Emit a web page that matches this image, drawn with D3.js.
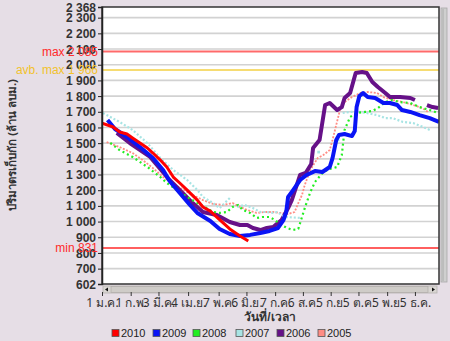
<!DOCTYPE html>
<html><head><meta charset="utf-8">
<script src="https://cdn.jsdelivr.net/npm/d3@7"></script>
<style>
html,body{margin:0;padding:0;background:#e6dee6;}
svg{display:block;font-family:"Liberation Sans",Arial,"Noto Sans",sans-serif;}
</style></head>
<body>
<svg id="c" width="450" height="341"></svg>
<script>
// ---- data (day of year, volume in million m3) ----
const yTicks = [602, 700, 800, 900, 1000, 1100, 1200, 1300, 1400, 1500, 1600, 1700, 1800, 1900, 2000, 2100, 2200, 2300, 2368];
const xTickDays = [0, 31, 61, 93, 126, 156, 187, 217, 247, 277, 308, 338];
const xTickLabels = ["1 ม.ค.", "1 ก.พ.", "3 มี.ค.", "4 เม.ย.", "7 พ.ค.", "6 มิ.ย.", "7 ก.ค.", "6 ส.ค.", "5 ก.ย.", "5 ต.ค.", "5 พ.ย.", "5 ธ.ค."];
const years = ["2010", "2009", "2008", "2007", "2006", "2005"];
const refNames = ["max 2 085", "avb. max 1 966", "min 831"];
const refValues = [2085, 1966, 831];

const days2010 = [0, 12, 19, 27, 33, 41, 49, 55, 63, 70, 77, 84, 92, 103, 109, 117, 124, 138, 149, 158];
const vol2010 = [1628, 1603, 1571, 1558, 1533, 1501, 1469, 1437, 1392, 1348, 1284, 1246, 1201, 1137, 1093, 1067, 1029, 953, 908, 876];

const days2009 = [6, 14, 27, 41, 55, 66, 73, 84, 95, 103, 117, 127, 138, 149, 160, 171, 181, 190, 196, 199, 201, 205, 214, 221, 230, 238, 246, 249, 253, 256, 262, 270, 273, 275, 278, 282, 287, 295, 304, 311, 319, 324, 333, 343, 354, 364];
const vol2009 = [1648, 1590, 1539, 1475, 1405, 1329, 1259, 1182, 1106, 1055, 1004, 953, 921, 908, 915, 927, 940, 959, 1010, 1061, 1157, 1188, 1265, 1297, 1322, 1316, 1348, 1405, 1520, 1552, 1558, 1545, 1577, 1730, 1800, 1820, 1794, 1788, 1756, 1756, 1743, 1711, 1699, 1679, 1660, 1635];

const days2008 = [9, 19, 33, 49, 63, 70, 81, 92, 103, 113, 120, 127, 135, 141, 147, 152, 160, 167, 173, 181, 187, 192, 200, 206, 212, 219, 225, 230, 239, 246, 254, 259, 262, 268, 275, 284, 292, 298, 306, 313, 322, 333, 343, 354, 363];
const vol2008 = [1501, 1456, 1412, 1348, 1284, 1246, 1201, 1157, 1118, 1086, 1061, 1055, 1061, 1093, 1106, 1074, 1055, 1023, 1029, 1029, 1010, 984, 959, 946, 953, 1086, 1188, 1252, 1316, 1335, 1348, 1424, 1584, 1667, 1692, 1699, 1705, 1724, 1762, 1775, 1762, 1756, 1730, 1711, 1692];

const days2007 = [1, 9, 19, 33, 49, 63, 77, 92, 103, 109, 120, 127, 138, 146, 154, 163, 171, 178, 185, 189, 198, 216, 234, 255, 260, 268, 279, 286, 297, 306, 314, 325, 336, 347, 354];
const vol2007 = [1692, 1667, 1635, 1584, 1501, 1405, 1329, 1265, 1201, 1157, 1118, 1086, 1150, 1093, 1106, 1086, 1061, 1061, 1055, 1061, 1029, 1023, 1443, 1520, 1692, 1699, 1699, 1692, 1679, 1660, 1660, 1635, 1628, 1603, 1584];
const gaps2007 = [138, 216, 234, 255];

const days2006 = [16, 30, 52, 73, 87, 98, 109, 124, 138, 149, 157, 163, 171, 178, 185, 190, 194, 201, 205, 214, 220, 226, 228, 235, 241, 246, 254, 259, 262, 268, 271, 274, 281, 286, 292, 298, 306, 311, 322, 333, 338, 351, 357, 363];
const vol2006 = [1565, 1501, 1412, 1265, 1182, 1118, 1061, 1042, 997, 978, 978, 959, 946, 959, 965, 991, 1010, 1086, 1137, 1297, 1310, 1367, 1469, 1520, 1743, 1756, 1711, 1730, 1788, 1820, 1883, 1947, 1954, 1947, 1890, 1858, 1820, 1794, 1794, 1788, 1775, 1743, 1730, 1724];
const gaps2006 = [338];

const days2005 = [5, 19, 33, 44, 55, 66, 81, 98, 109, 120, 131, 141, 149, 157, 167, 176, 185, 192, 201, 208, 212, 216, 219, 225, 233, 239, 246, 249, 253, 257, 262, 270, 279, 287, 297, 304, 314, 325, 336, 346, 352];
const vol2005 = [1507, 1475, 1437, 1392, 1341, 1284, 1227, 1169, 1137, 1112, 1106, 1118, 1093, 1074, 1055, 1061, 1061, 1055, 1048, 1061, 1118, 1169, 1233, 1329, 1405, 1424, 1456, 1520, 1616, 1711, 1762, 1794, 1820, 1826, 1820, 1794, 1775, 1762, 1743, 1724, 1699];

// ---- styles ----
const colors = {"2010": "#ff0000", "2009": "#0a14f5", "2008": "#22ee22", "2007": "#a8e4e4", "2006": "#661188", "2005": "#ff8c84"};
const widths = {"2010": 3, "2009": 4, "2008": 2.2, "2007": 2.2, "2006": 4, "2005": 1.8};
const dashes = {"2010": null, "2009": null, "2008": "2,3", "2007": "2,2", "2006": null, "2005": "2,1.5"};
const refColors = ["#ff6a6a", "#f6dc72", "#ff2a2a"];
const refText = ["#ff2a2a", "#f2c22c", "#ff2a2a"];

const series = {
  "2010": {d: days2010, v: vol2010, gaps: []},
  "2009": {d: days2009, v: vol2009, gaps: []},
  "2008": {d: days2008, v: vol2008, gaps: []},
  "2007": {d: days2007, v: vol2007, gaps: gaps2007},
  "2006": {d: days2006, v: vol2006, gaps: gaps2006},
  "2005": {d: days2005, v: vol2005, gaps: []}
};

const svg = d3.select("#c");
const L = 102, R = 439, T = 7, B = 284;
const x = d3.scaleLinear().domain([0, 364]).range([L, R]);
const y = d3.scaleLinear().domain([602, 2368]).range([B, T]);
const fmt = d3.formatLocale({decimal: ".", thousands: " ", grouping: [3], currency: ["", ""]}).format(",d");

// plot background
svg.append("rect").attr("x", L).attr("y", T).attr("width", R - L).attr("height", B - T).attr("fill", "#fff");

// gridlines
svg.append("g").selectAll("line").data(yTicks.filter(t => t > 602 && t < 2368)).join("line")
  .attr("x1", L).attr("x2", R).attr("y1", d => y(d)).attr("y2", d => y(d))
  .attr("stroke", "#d2d2d2").attr("stroke-width", 1.6);

// reference lines
refValues.forEach((v, i) => {
  svg.append("line").attr("x1", L).attr("x2", R).attr("y1", y(v)).attr("y2", y(v))
    .attr("stroke", refColors[i]).attr("stroke-width", i === 2 ? 1.5 : 2);
});

// series (drawn back to front)
svg.append("clipPath").attr("id", "pc").append("rect").attr("x", L).attr("y", T).attr("width", R - L).attr("height", B - T);
const gS = svg.append("g").attr("clip-path", "url(#pc)");
years.slice().reverse().forEach(yr => {
  const s = series[yr];
  const pts = s.d.map((d, i) => ({d, v: s.v[i], brk: s.gaps.includes(d)}));
  const segs = [[]];
  pts.forEach(p => { segs[segs.length - 1].push(p); if (p.brk) segs.push([]); });
  const line = d3.line().x(p => x(p.d)).y(p => y(p.v));
  segs.forEach(seg => {
    if (seg.length > 1) {
      gS.append("path").attr("d", line(seg)).attr("fill", "none")
        .attr("stroke", colors[yr]).attr("stroke-width", widths[yr])
        .attr("stroke-dasharray", dashes[yr]).attr("stroke-linejoin", "round");
    } else if (seg.length === 1) {
      const w = widths[yr] + 0.5;
      gS.append("rect").attr("x", x(seg[0].d) - w / 2).attr("y", y(seg[0].v) - w / 2)
        .attr("width", w).attr("height", w).attr("fill", colors[yr]);
    }
  });
});

// plot border
svg.append("rect").attr("x", L).attr("y", T).attr("width", R - L).attr("height", B - T)
  .attr("fill", "none").attr("stroke", "#333").attr("stroke-width", 1.5);

// y axis
const yAxis = d3.axisLeft(y).tickValues(yTicks).tickFormat(fmt).tickSize(4).tickPadding(2);
const gy = svg.append("g").attr("transform", `translate(${L},0)`).call(yAxis);
gy.select(".domain").attr("stroke", "#222").attr("stroke-width", 1.5);
gy.selectAll(".tick line").attr("stroke", "#222");
gy.selectAll("text").attr("fill", "#333").attr("font-size", 12).attr("font-weight", "bold").attr("font-family", "Liberation Sans, Arial, sans-serif").attr("dy", "0.34em");

// ref labels
refValues.forEach((v, i) => {
  svg.append("text").attr("x", 98).attr("y", y(v)).attr("dy", "0.35em").attr("text-anchor", "end")
    .attr("fill", refText[i]).attr("font-size", 12).text(refNames[i]);
});

// horizontal scrollbar
const sb = svg.append("g");
sb.append("rect").attr("x", 103).attr("y", 286).attr("width", 334).attr("height", 7).attr("fill", "#d9d6d2").attr("stroke", "#b5b2ae").attr("stroke-width", 0.8);
sb.append("rect").attr("x", 111).attr("y", 286.5).attr("width", 317).attr("height", 6).attr("fill", "#cfccc8").attr("stroke", "#a9a6a2").attr("stroke-width", 0.6);
sb.append("path").attr("d", "M105,289.5 L108,287.5 L108,291.5 Z").attr("fill", "#111");
sb.append("path").attr("d", "M435,289.5 L432,287.5 L432,291.5 Z").attr("fill", "#111");
// vertical scrollbar
svg.append("rect").attr("x", 441).attr("y", 8).attr("width", 6).attr("height", 274).attr("fill", "#cfcfcf").attr("stroke", "#a8a8a8").attr("stroke-width", 0.8);
svg.append("line").attr("x1", 443).attr("x2", 443).attr("y1", 9).attr("y2", 281).attr("stroke", "#aaa").attr("stroke-width", 1);

// x axis
const xAxis = d3.axisBottom(x).tickValues(xTickDays).tickFormat((d, i) => xTickLabels[i]).tickSize(4).tickPadding(2);
const gx = svg.append("g").attr("transform", "translate(0,292)").call(xAxis);
gx.select(".domain").remove();
gx.selectAll(".tick line").attr("stroke", "#333");
gx.selectAll("text").attr("fill", "#333").attr("font-size", 12).attr("font-family", "Tahoma, 'Noto Sans', 'DejaVu Sans', sans-serif");

// axis titles
svg.append("text").attr("x", 270).attr("y", 321).attr("text-anchor", "middle")
  .attr("font-size", 12).attr("font-weight", "bold").attr("fill", "#333").text("วันที่/เวลา");
svg.append("text").attr("transform", "translate(16,145) rotate(-90)").attr("text-anchor", "middle")
  .attr("font-size", 11.5).attr("font-weight", "bold").attr("fill", "#333").text("ปริมาตรเก็บกัก (ล้าน ลบม.)");

// legend
const legX = [112, 153, 193, 236, 277, 318];
const lg = svg.append("g").selectAll("g").data(years).join("g").attr("transform", (d, i) => `translate(${legX[i]},333)`);
lg.append("rect").attr("x", 0).attr("y", -3.5).attr("width", 7).attr("height", 7)
  .attr("fill", d => colors[d]).attr("stroke", "#555").attr("stroke-width", 0.8);
lg.append("text").attr("x", 9).attr("y", 0).attr("dy", "0.36em").attr("font-size", 11).attr("fill", "#222").text(d => d);
</script>
</body></html>
